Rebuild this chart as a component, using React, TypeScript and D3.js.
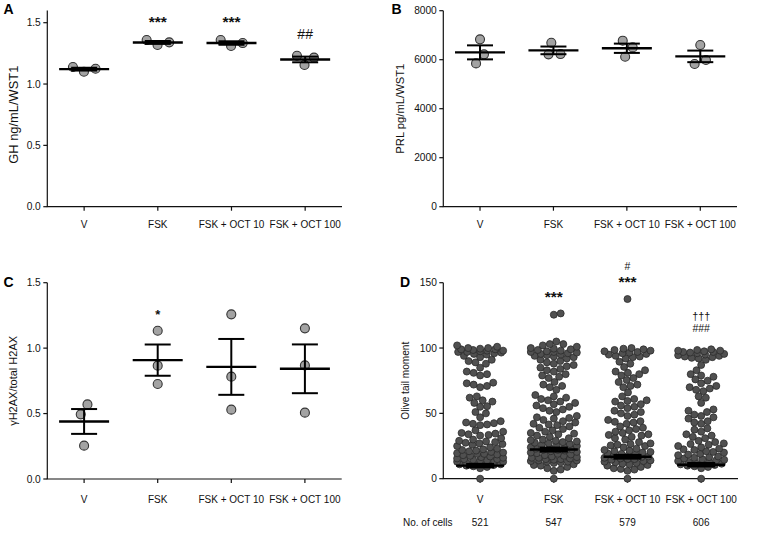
import React, { useMemo } from "react";
import * as d3 from "d3";

const categories = ["V", "FSK", "FSK + OCT 10", "FSK + OCT 100"];

// Panel A: GH ng/mL/WST1
const ghValues = [
  [1.139, 1.1, 1.125],
  [1.359, 1.318, 1.34],
  [1.359, 1.31, 1.334],
  [1.231, 1.155, 1.215],
];
const ghAnnot = [[], ["***"], ["***"], ["##"]];

// Panel B: PRL pg/mL/WST1
const prlValues = [
  [6830, 6218, 5850],
  [6694, 6218, 6230],
  [6776, 6122, 6503],
  [6599, 5823, 5986],
];

// Panel C: γH2AX/total H2AX
const h2axValues = [
  [0.57, 0.494, 0.255],
  [1.133, 0.866, 0.726],
  [1.258, 0.782, 0.53],
  [1.151, 0.868, 0.507],
];
const h2axAnnot = [[], ["*"], [], []];

// Panel D: Olive tail moment (per cell)
const oliveV = [
  0,
  8, 9, 9.5, 10, 10.5, 11, 11, 11.5, 12, 12,
  12.5, 13, 13, 13.5, 14, 14, 14.5, 15, 15, 15.5, 16, 16.5, 17, 17.5, 18,
  18.5, 19, 19, 19.5, 20, 20.5, 21, 21.5, 22, 22.5, 23, 24, 25,
  26, 26.5, 27, 27.5, 28, 28.5, 29, 30, 31,
  33, 33.5, 34, 34.5, 35, 36, 37,
  41, 41.5, 42, 42.5, 43, 44, 47,
  50, 51, 55, 55.5,
  58, 59, 60, 62, 63,
  70, 71, 72, 73, 73.5,
  79, 80, 81, 82, 85,
  88, 89, 90, 91,
  93, 94, 95, 95.5, 96, 96.5, 97, 97, 97.5, 98, 98, 98.5, 99, 99, 99.5, 100, 100, 101, 102,
];
const oliveFSK = [
  0,
  6, 7, 8, 9, 10, 10.5, 11, 12,
  12.5, 13, 13, 13.5, 14, 14, 14.5, 15, 15, 15.5, 16, 16, 16.5, 17, 17.5, 18, 18.5,
  19, 19.5, 20, 20.5, 21, 21.5, 22, 22, 22.5, 23, 23.5, 24, 24.5, 25,
  25.5, 26, 26.5, 27, 27.5, 28, 28.5, 29, 29.5, 30, 31,
  32, 33, 34, 34.5, 35, 36, 37,
  38, 39, 40, 41, 41.5, 42, 43, 44,
  45, 46, 46.5, 47, 48,
  51, 52, 53, 54,
  55, 56, 57, 58, 59, 60, 61,
  62, 63, 64,
  68, 70, 71, 72, 74,
  77, 78, 79, 80,
  82, 83, 84, 85, 86, 87,
  88, 89, 90, 91,
  92, 93, 93.5, 94, 94.5, 95, 95.5, 96, 96.5, 97, 97, 97.5, 98, 98.5, 99, 99.5, 100, 101, 102, 103, 103,
  105, 125.5, 126.5,
];
const oliveOct10 = [
  0,
  6, 7, 7.5, 8, 9, 10, 10.5, 11, 11.5, 12,
  12.5, 13, 13.5, 14, 14.5, 15, 15, 15.5, 16, 16.5, 17, 17.5, 18,
  18.5, 19, 19.5, 20, 20.5, 21, 21.5, 22, 23,
  24, 25, 25.5, 26, 26.5, 27, 28,
  30, 31, 32, 33, 33.5, 34, 35, 36,
  37, 38, 39, 40, 42, 43, 43.5, 44, 45,
  48, 49, 50, 51, 52,
  54, 55, 56, 57, 59, 59.5, 60, 61,
  63, 66,
  70, 71, 72, 74, 75.5, 77,
  79, 80, 81, 82, 83,
  85.5, 88, 89.5,
  92, 93, 93.5, 94, 95, 95.5, 96, 96.5, 97, 97.5, 98, 98.5, 99, 99.5, 100,
  137.5,
];
const oliveOct100 = [
  0,
  8, 9, 9.5, 10, 10.5, 11, 11.5, 12,
  12.5, 13, 13, 13.5, 14, 14.5, 15, 15.5, 16, 16.5, 17, 18,
  18.5, 19, 20, 20.5, 21, 22, 22.5, 23, 24,
  25, 26, 26.5, 27, 28, 29,
  31, 32, 33, 34,
  36, 37.5, 38.5, 42, 43, 44, 46,
  47, 48, 49, 51, 52, 53,
  58, 62, 63,
  67, 68, 69, 70, 71,
  73, 75, 76, 78, 79, 80, 83,
  87,
  91, 92, 92.5, 93, 93.5, 94, 94.5, 95, 95.5, 96, 96.5, 97, 97, 97.5, 98, 98, 98.5, 99,
];
const oliveValues = [oliveV, oliveFSK, oliveOct10, oliveOct100];
const oliveMeans = [10, 22.3, 16.8, 10.7];
const oliveSems = [1.1, 1.3, 1.2, 1.1];
const cellCounts = [521, 547, 579, 606];
const oliveAnnot = [[], ["***"], ["***", "#"], ["###", "†††"]];

const FONT = "'Liberation Sans', Arial, Helvetica, sans-serif";

type Pt = { v: number; x: number; y: number };

function swarm(values: number[], y: (v: number) => number, d: number, maxW: number): Pt[] {
  const items = values.map((v) => ({ v, y: y(v) })).sort((a, b) => b.y - a.y);
  const placed: Pt[] = [];
  for (const p of items) {
    const cands = [0];
    for (const q of placed) {
      const dy = Math.abs(q.y - p.y);
      if (dy < d) {
        const dx = Math.sqrt(d * d - dy * dy);
        cands.push(q.x + dx, q.x - dx);
      }
    }
    cands.sort((a, b) => Math.abs(a) - Math.abs(b) || b - a);
    let chosen: number | null = null;
    for (const c of cands) {
      if (Math.abs(c) > maxW + 0.01) continue;
      let ok = true;
      for (const q of placed) {
        if ((q.x - c) ** 2 + (q.y - p.y) ** 2 < d * d - 1e-6) {
          ok = false;
          break;
        }
      }
      if (ok) {
        chosen = c;
        break;
      }
    }
    if (chosen === null) {
      let best = 0;
      let bestScore = Infinity;
      for (let c = -maxW; c <= maxW; c += 1) {
        let s = 0;
        for (const q of placed) {
          const dist = Math.hypot(q.x - c, q.y - p.y);
          if (dist < d) s += d - dist;
        }
        if (s < bestScore - 1e-9 || (Math.abs(s - bestScore) < 1e-9 && Math.abs(c) < Math.abs(best))) {
          bestScore = s;
          best = c;
        }
      }
      chosen = best;
    }
    placed.push({ v: p.v, x: chosen, y: p.y });
  }
  return placed;
}

function centerClusters(pts: Pt[], d: number): Pt[] {
  const n = pts.length;
  const comp = pts.map((_, i) => i);
  const find = (i: number): number => (comp[i] === i ? i : (comp[i] = find(comp[i])));
  for (let i = 0; i < n; i++)
    for (let j = i + 1; j < n; j++)
      if (Math.abs(pts[i].y - pts[j].y) < d) comp[find(i)] = find(j);
  const groups = d3.group(pts.map((p, i) => ({ p, g: find(i) })), (e) => e.g);
  const out: Pt[] = [];
  groups.forEach((arr) => {
    const m = d3.mean(arr, (e) => e.p.x) || 0;
    arr.forEach((e) => out.push({ ...e.p, x: e.p.x - m }));
  });
  return out;
}

function annStyle(s: string) {
  if (s.includes("*")) return { fs: s.length === 1 ? 13 : 15.5, bold: true, off: 0.6 };
  if (s.includes("†")) return { fs: 10.8, bold: false, off: 0.3 };
  return { fs: s.length === 2 ? 14 : 10.5, bold: false, off: 0.36 };
}

type PanelProps = {
  letter: string;
  left: number;
  right: number;
  y0: number;
  yMaxPx: number;
  yMaxVal: number;
  axisTopVal: number;
  ticks: number[];
  fmt: (v: number) => string;
  title: string;
  titleX: number;
  titleLen: number;
  titleSize: number;
  letterX: number;
  letterY: number;
  labelY: number;
  annGap: number;
  annStep: number;
};

function Annotations({ list, cx, yTop, gap, step }: { list: string[]; cx: number; yTop: number; gap: number; step: number }) {
  return (
    <g>
      {list.map((s, k) => {
        const st = annStyle(s);
        const cy = yTop - gap - k * step;
        return (
          <text key={k} x={cx} y={cy + st.off * st.fs} textAnchor="middle" fontSize={st.fs}
            fontWeight={st.bold ? "bold" : "normal"} fontFamily={FONT} fill="#111">
            {s}
          </text>
        );
      })}
    </g>
  );
}

function Axes({ p, x, y }: { p: PanelProps; x: d3.ScalePoint<string>; y: d3.ScaleLinear<number, number> }) {
  return (
    <g>
      <line x1={p.left} x2={p.left} y1={y(0)} y2={y(p.axisTopVal)} stroke="#111" strokeWidth={1.2} />
      <line x1={p.left - 0.6} x2={p.right} y1={y(0)} y2={y(0)} stroke="#111" strokeWidth={1.2} />
      {p.ticks.map((t) => (
        <g key={t}>
          <line x1={p.left - 4} x2={p.left} y1={y(t)} y2={y(t)} stroke="#111" strokeWidth={1.2} />
          <text x={p.left - 6.5} y={y(t)} dy="0.36em" textAnchor="end" fontSize={10.2} fontFamily={FONT} fill="#111">
            {p.fmt(t)}
          </text>
        </g>
      ))}
      {categories.map((c) => (
        <g key={c}>
          <line x1={x(c)!} x2={x(c)!} y1={y(0)} y2={y(0) + 4} stroke="#111" strokeWidth={1.2} />
          <text x={x(c)!} y={p.labelY} textAnchor="middle" fontSize={10} fontFamily={FONT} fill="#111">
            {c}
          </text>
        </g>
      ))}
      <text
        transform={`translate(${p.titleX},${(y(0) + y(p.yMaxVal)) / 2}) rotate(-90)`}
        textAnchor="middle"
        dy="0.35em"
        fontSize={p.titleSize}
        fontFamily={FONT}
        textLength={p.titleLen}
        lengthAdjust="spacingAndGlyphs"
        fill="#111"
      >
        {p.title}
      </text>
      <text x={p.letterX} y={p.letterY} fontSize={14} fontWeight="bold" fontFamily={FONT} fill="#000">
        {p.letter}
      </text>
    </g>
  );
}

function DotPanel({ p, values, annot }: { p: PanelProps; values: number[][]; annot?: string[][] }) {
  const x = d3.scalePoint<string>().domain(categories).range([p.left, p.right]).padding(0.5);
  const y = d3.scaleLinear().domain([0, p.yMaxVal]).range([p.y0, p.yMaxPx]);
  const r = 4.5;
  const swarms = useMemo(
    () => values.map((vals) => centerClusters(swarm(vals, y, 12, 20), 12)),
    [values]
  );
  return (
    <g>
      <Axes p={p} x={x} y={y} />
      {values.map((vals, i) => {
        const cx = x(categories[i])!;
        const m = d3.mean(vals)!;
        const sem = d3.deviation(vals)! / Math.sqrt(vals.length);
        const top = d3.max(vals)!;
        return (
          <g key={i}>
            {swarms[i].map((pt, k) => (
              <circle key={k} cx={cx + pt.x} cy={pt.y} r={r} fill="#a3a3a3" stroke="#333" strokeWidth={1.1} />
            ))}
            <line x1={cx - 25} x2={cx + 25} y1={y(m)} y2={y(m)} stroke="#000" strokeWidth={2.4} />
            <line x1={cx} x2={cx} y1={y(m - sem)} y2={y(m + sem)} stroke="#000" strokeWidth={2} />
            <line x1={cx - 13} x2={cx + 13} y1={y(m + sem)} y2={y(m + sem)} stroke="#000" strokeWidth={2} />
            <line x1={cx - 13} x2={cx + 13} y1={y(m - sem)} y2={y(m - sem)} stroke="#000" strokeWidth={2} />
            {annot && <Annotations list={annot[i]} cx={cx} yTop={y(top)} gap={p.annGap} step={p.annStep} />}
          </g>
        );
      })}
    </g>
  );
}

function SwarmPanel({ p }: { p: PanelProps }) {
  const x = d3.scalePoint<string>().domain(categories).range([p.left, p.right]).padding(0.5);
  const y = d3.scaleLinear().domain([0, p.yMaxVal]).range([p.y0, p.yMaxPx]);
  const r = 3.5;
  const swarms = useMemo(() => oliveValues.map((vals) => swarm(vals, y, 7, 23)), []);
  return (
    <g>
      <Axes p={p} x={x} y={y} />
      {oliveValues.map((vals, i) => {
        const cx = x(categories[i])!;
        const m = oliveMeans[i];
        const sem = oliveSems[i];
        const top = d3.max(vals)!;
        return (
          <g key={i}>
            {swarms[i].map((pt, k) => (
              <circle key={k} cx={cx + pt.x} cy={pt.y} r={r} fill="#505050" stroke="#2b2b2b" strokeWidth={0.8} />
            ))}
            <line x1={cx - 24} x2={cx + 24} y1={y(m)} y2={y(m)} stroke="#000" strokeWidth={2.4} />
            <rect x={cx - 14} y={y(m + sem) - 1.3} width={28} height={y(m - sem) - y(m + sem) + 2.6} fill="#000" />
            <Annotations list={oliveAnnot[i]} cx={cx} yTop={y(top)} gap={p.annGap} step={p.annStep} />
            <text x={cx} y={525.5} textAnchor="middle" fontSize={10} fontFamily={FONT} fill="#111">
              {cellCounts[i]}
            </text>
          </g>
        );
      })}
      <text x={403} y={525.5} fontSize={10} fontFamily={FONT} fill="#111">
        No. of cells
      </text>
    </g>
  );
}

const panelA: PanelProps = {
  letter: "A", left: 47.3, right: 342, y0: 206.7, yMaxPx: 22.7, yMaxVal: 1.5, axisTopVal: 1.6,
  ticks: [0, 0.5, 1.0, 1.5], fmt: d3.format(".1f"), title: "GH ng/mL/WST1", titleX: 13.5, titleLen: 98,
  titleSize: 12.5, letterX: 3.5, letterY: 14, labelY: 227.5, annGap: 22, annStep: 12,
};
const panelB: PanelProps = {
  letter: "B", left: 443.3, right: 737, y0: 206.7, yMaxPx: 10.7, yMaxVal: 8000, axisTopVal: 8000,
  ticks: [0, 2000, 4000, 6000, 8000], fmt: d3.format("d"), title: "PRL pg/mL/WST1", titleX: 400.5, titleLen: 90,
  titleSize: 11, letterX: 391.5, letterY: 13.5, labelY: 227.5, annGap: 22, annStep: 12,
};
const panelC: PanelProps = {
  letter: "C", left: 47.3, right: 341.7, y0: 479, yMaxPx: 282.7, yMaxVal: 1.5, axisTopVal: 1.5,
  ticks: [0, 0.5, 1.0, 1.5], fmt: d3.format(".1f"), title: "γH2AX/total H2AX", titleX: 13.5, titleLen: 90,
  titleSize: 10.7, letterX: 3.5, letterY: 287, labelY: 502.5, annGap: 20, annStep: 12,
};
const panelD: PanelProps = {
  letter: "D", left: 443.3, right: 738, y0: 478.7, yMaxPx: 282.7, yMaxVal: 150, axisTopVal: 150,
  ticks: [0, 50, 100, 150], fmt: d3.format("d"), title: "Olive tail moment", titleX: 405, titleLen: 78,
  titleSize: 10.1, letterX: 400, letterY: 287, labelY: 502.5, annGap: 21, annStep: 12,
};

export default function App() {
  return (
    <svg
      width={759}
      height={535}
      viewBox="0 0 759 535"
      style={{ position: "absolute", left: 0, top: 0, background: "#fff" }}
    >
      <rect width={759} height={535} fill="#fff" />
      <DotPanel p={panelA} values={ghValues} annot={ghAnnot} />
      <DotPanel p={panelB} values={prlValues} />
      <DotPanel p={panelC} values={h2axValues} annot={h2axAnnot} />
      <SwarmPanel p={panelD} />
    </svg>
  );
}
